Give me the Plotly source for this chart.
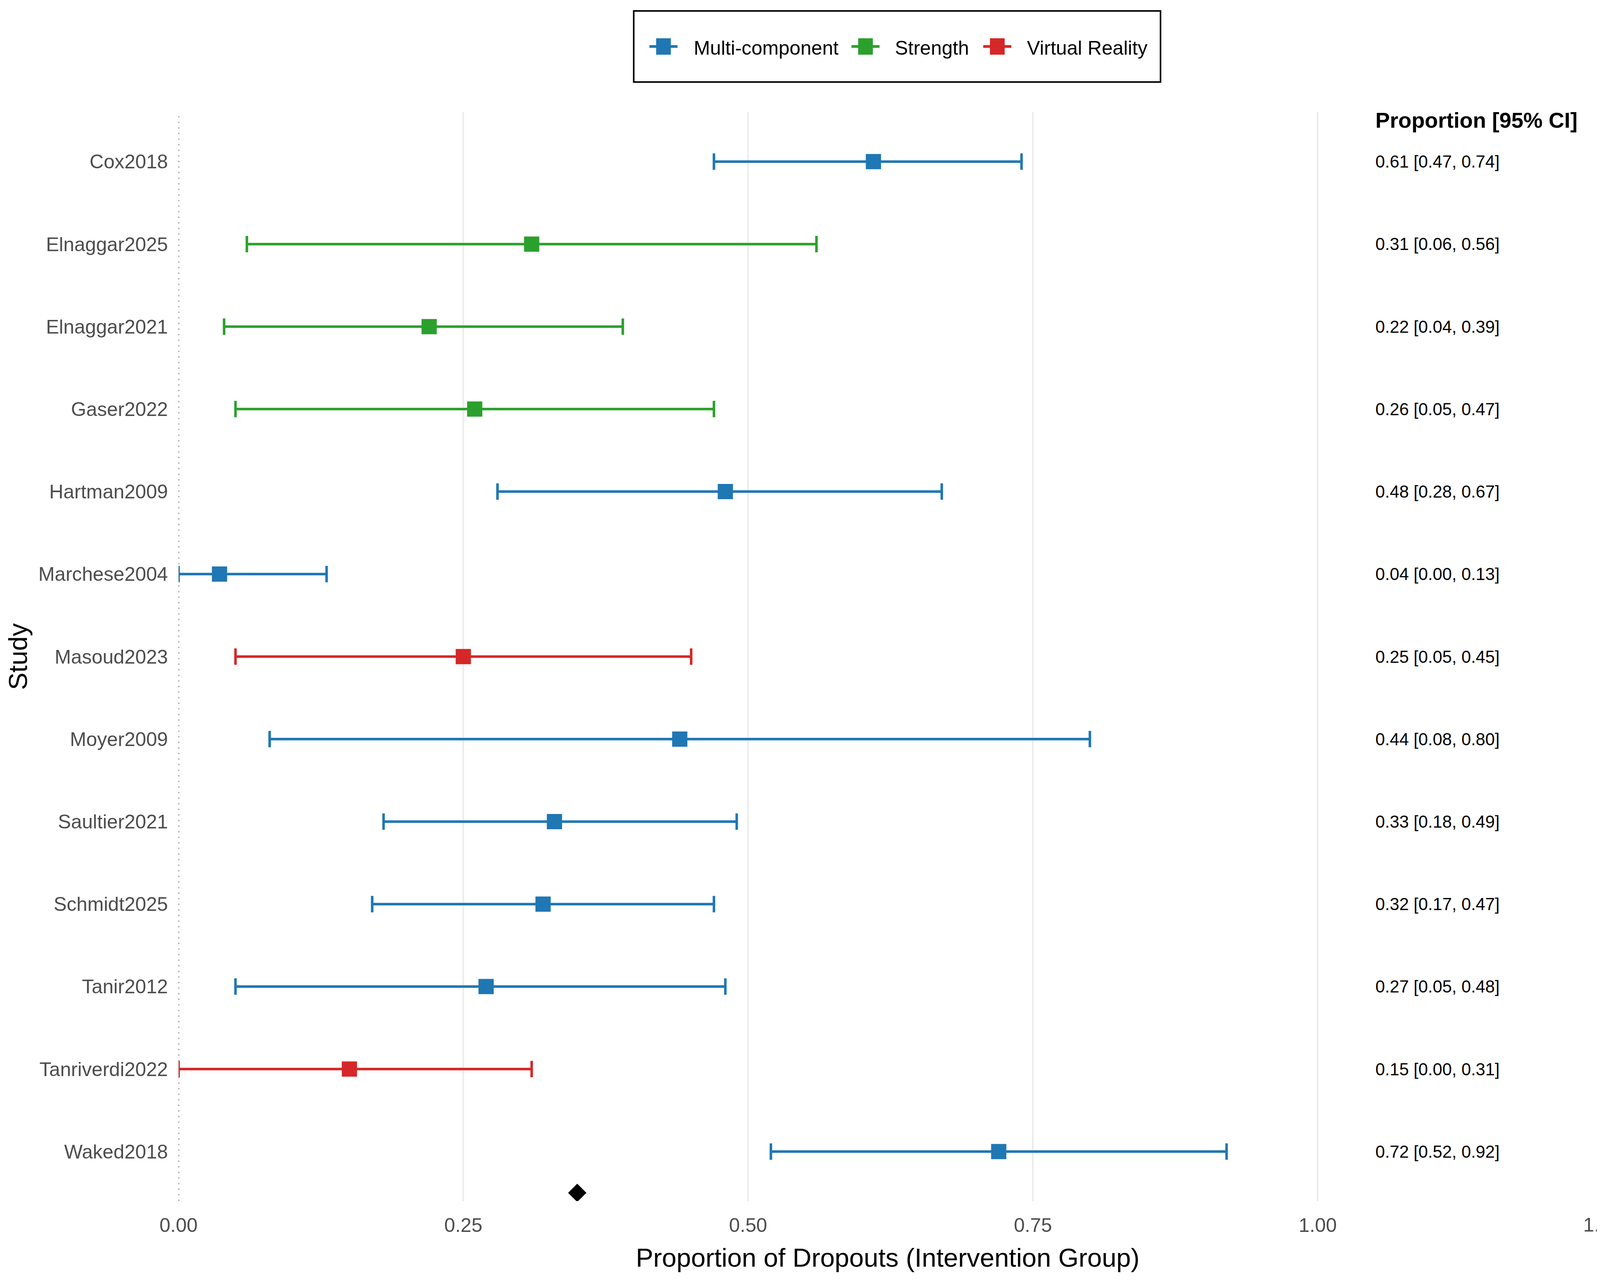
import plotly.graph_objects as go

# ---------------- data ----------------
studies = ["Cox2018", "Elnaggar2025", "Elnaggar2021", "Gaser2022", "Hartman2009",
           "Marchese2004", "Masoud2023", "Moyer2009", "Saultier2021", "Schmidt2025",
           "Tanir2012", "Tanriverdi2022", "Waked2018"]
groups = ["Multi-component", "Strength", "Strength", "Strength", "Multi-component",
          "Multi-component", "Virtual Reality", "Multi-component", "Multi-component",
          "Multi-component", "Multi-component", "Virtual Reality", "Multi-component"]
proportion = [0.61, 0.31, 0.22, 0.26, 0.48, 0.036, 0.25, 0.44, 0.33, 0.32, 0.27, 0.15, 0.72]
ci_lower = [0.47, 0.06, 0.04, 0.05, 0.28, 0.00, 0.05, 0.08, 0.18, 0.17, 0.05, 0.00, 0.52]
ci_upper = [0.74, 0.56, 0.39, 0.47, 0.67, 0.13, 0.45, 0.80, 0.49, 0.47, 0.48, 0.31, 0.92]
pooled_estimate = 0.35
group_order = ["Multi-component", "Strength", "Virtual Reality"]
group_colors = ["#1F77B4", "#2CA02C", "#D62728"]
x_tick_values = [0.0, 0.25, 0.50, 0.75, 1.00]
extra_tick = 1.25
header_text = "Proportion [95% CI]"
x_title = "Proportion of Dropouts (Intervention Group)"
y_title = "Study"

# ---------------- geometry / style ----------------
# Design values are measured on the 4784x3295 reference; the page renders in a
# 4096x3295 css viewport, so horizontal values are scaled by KX.
KX = 4096.0 / 4784.0
KF = 0.88                # font scale
OFF = 8                  # default page margin


def px_x(v):
    return v * KX - OFF


def px_y(v):
    return v - OFF


W, H = 4080, 3279
PANEL_L, PANEL_T, PANEL_B = px_x(534), px_y(287), px_y(3075)
UNIT_PX = 3406.0 * KX
X_MAX = (W - PANEL_L) / UNIT_PX
FONT = "Liberation Sans, Arial, sans-serif"
GREY30 = "#4D4D4D"
TICK_FS = 57 * KF
TITLE_FS = 76 * KF

n = len(studies)
ypos = [n - i for i in range(n)]
color_of = dict(zip(group_order, group_colors))

fig = go.Figure()

for g in group_order:
    idx = [i for i in range(n) if groups[i] == g]
    xs = [proportion[i] for i in idx]
    ys = [ypos[i] for i in idx]
    plus = [ci_upper[i] - proportion[i] for i in idx]
    minus = [proportion[i] - ci_lower[i] for i in idx]
    fig.add_trace(go.Scatter(
        x=xs, y=ys, mode="markers", name=g, showlegend=False,
        marker=dict(symbol="square", size=39, color=color_of[g], line=dict(width=0)),
        error_x=dict(type="data", symmetric=False, array=plus, arrayminus=minus,
                     color=color_of[g], thickness=6.5, width=21),
    ))

# pooled estimate diamond
fig.add_trace(go.Scatter(
    x=[pooled_estimate], y=[0.5], mode="markers", showlegend=False,
    marker=dict(symbol="diamond", size=36, color="black", line=dict(width=0)),
))

# dotted reference line at 0
fig.add_shape(type="line", xref="x", yref="y domain", x0=0, x1=0, y0=0, y1=1,
              line=dict(color="#5E5E5E", width=3.1, dash="3.6px,10.7px"), layer="above")

# right-side text column
for i in range(n):
    fig.add_annotation(
        x=1.05, y=ypos[i], xref="x", yref="y", xanchor="left", yanchor="middle",
        text=f"{proportion[i]:.2f} [{ci_lower[i]:.2f}, {ci_upper[i]:.2f}]",
        showarrow=False, font=dict(family=FONT, size=44, color="black"))
fig.add_annotation(
    x=1.05, y=n + 0.5, xref="x", yref="y", xanchor="left", yanchor="middle",
    text=f"<b>{header_text}</b>", showarrow=False,
    font=dict(family=FONT, size=63 * KF, color="black"))

# partially visible 1.25 tick label at the right edge (continuation of the x scale)
fig.add_annotation(
    x=extra_tick / X_MAX, y=0, xref="paper", yref="paper", xanchor="center", yanchor="top",
    yshift=-31, text=f"{extra_tick:.2f}", showarrow=False,
    font=dict(family=FONT, size=TICK_FS, color=GREY30))

# ---------------- legend ----------------
def paper_x(px):
    return (px_x(px) - PANEL_L) / (W - PANEL_L)


def paper_y(py):
    return (PANEL_B - px_y(py)) / (PANEL_B - PANEL_T)


fig.add_shape(type="rect", xref="paper", yref="paper",
              x0=paper_x(1895), x1=paper_x(3470),
              y0=paper_y(210), y1=paper_y(28),
              line=dict(color="black", width=4), fillcolor="white", layer="above")
legend_sym_x = [1984, 2588, 2982]
legend_txt_x = [2072, 2674, 3068]
LEG_Y = 119
for g, c, sx, tx in zip(group_order, group_colors, legend_sym_x, legend_txt_x):
    fig.add_shape(type="line", xref="paper", yref="paper",
                  x0=paper_x(sx - 42), x1=paper_x(sx + 42),
                  y0=paper_y(LEG_Y), y1=paper_y(LEG_Y),
                  line=dict(color=c, width=7), layer="above")
    fig.add_shape(type="rect", xref="paper", yref="paper",
                  x0=paper_x(sx - 22), x1=paper_x(sx + 22),
                  y0=paper_y(LEG_Y + 21), y1=paper_y(LEG_Y - 21),
                  line=dict(width=0), fillcolor=c, layer="above")
    fig.add_annotation(x=paper_x(tx), y=paper_y(LEG_Y + 4), xref="paper", yref="paper",
                       xanchor="left", yanchor="middle", text=g, showarrow=False,
                       font=dict(family=FONT, size=TICK_FS, color="black"))

fig.update_layout(
    width=W, height=H,
    margin=dict(l=PANEL_L, r=0, t=PANEL_T, b=H - PANEL_B, pad=0),
    paper_bgcolor="white", plot_bgcolor="white",
    showlegend=False,
    font=dict(family=FONT, size=TICK_FS, color=GREY30),
    xaxis=dict(
        range=[0, X_MAX], tickvals=x_tick_values,
        ticktext=[f"{v:.2f}" for v in x_tick_values],
        showgrid=True, gridcolor="#EBEBEB", gridwidth=4.3,
        zeroline=False, showline=False, ticks="",
        ticklabelstandoff=28,
        tickfont=dict(family=FONT, size=TICK_FS, color=GREY30),
        title=dict(text=x_title, font=dict(family=FONT, size=TITLE_FS, color="black"), standoff=32),
        automargin=False,
    ),
    yaxis=dict(
        range=[0.4, n + 0.6], tickvals=ypos, ticktext=studies,
        showgrid=False, zeroline=False, showline=False, ticks="",
        ticklabelstandoff=26,
        tickfont=dict(family=FONT, size=TICK_FS, color=GREY30),
        title=dict(text=y_title, font=dict(family=FONT, size=TITLE_FS, color="black"), standoff=10),
        automargin=False,
    ),
)

fig.write_html("out.html")
